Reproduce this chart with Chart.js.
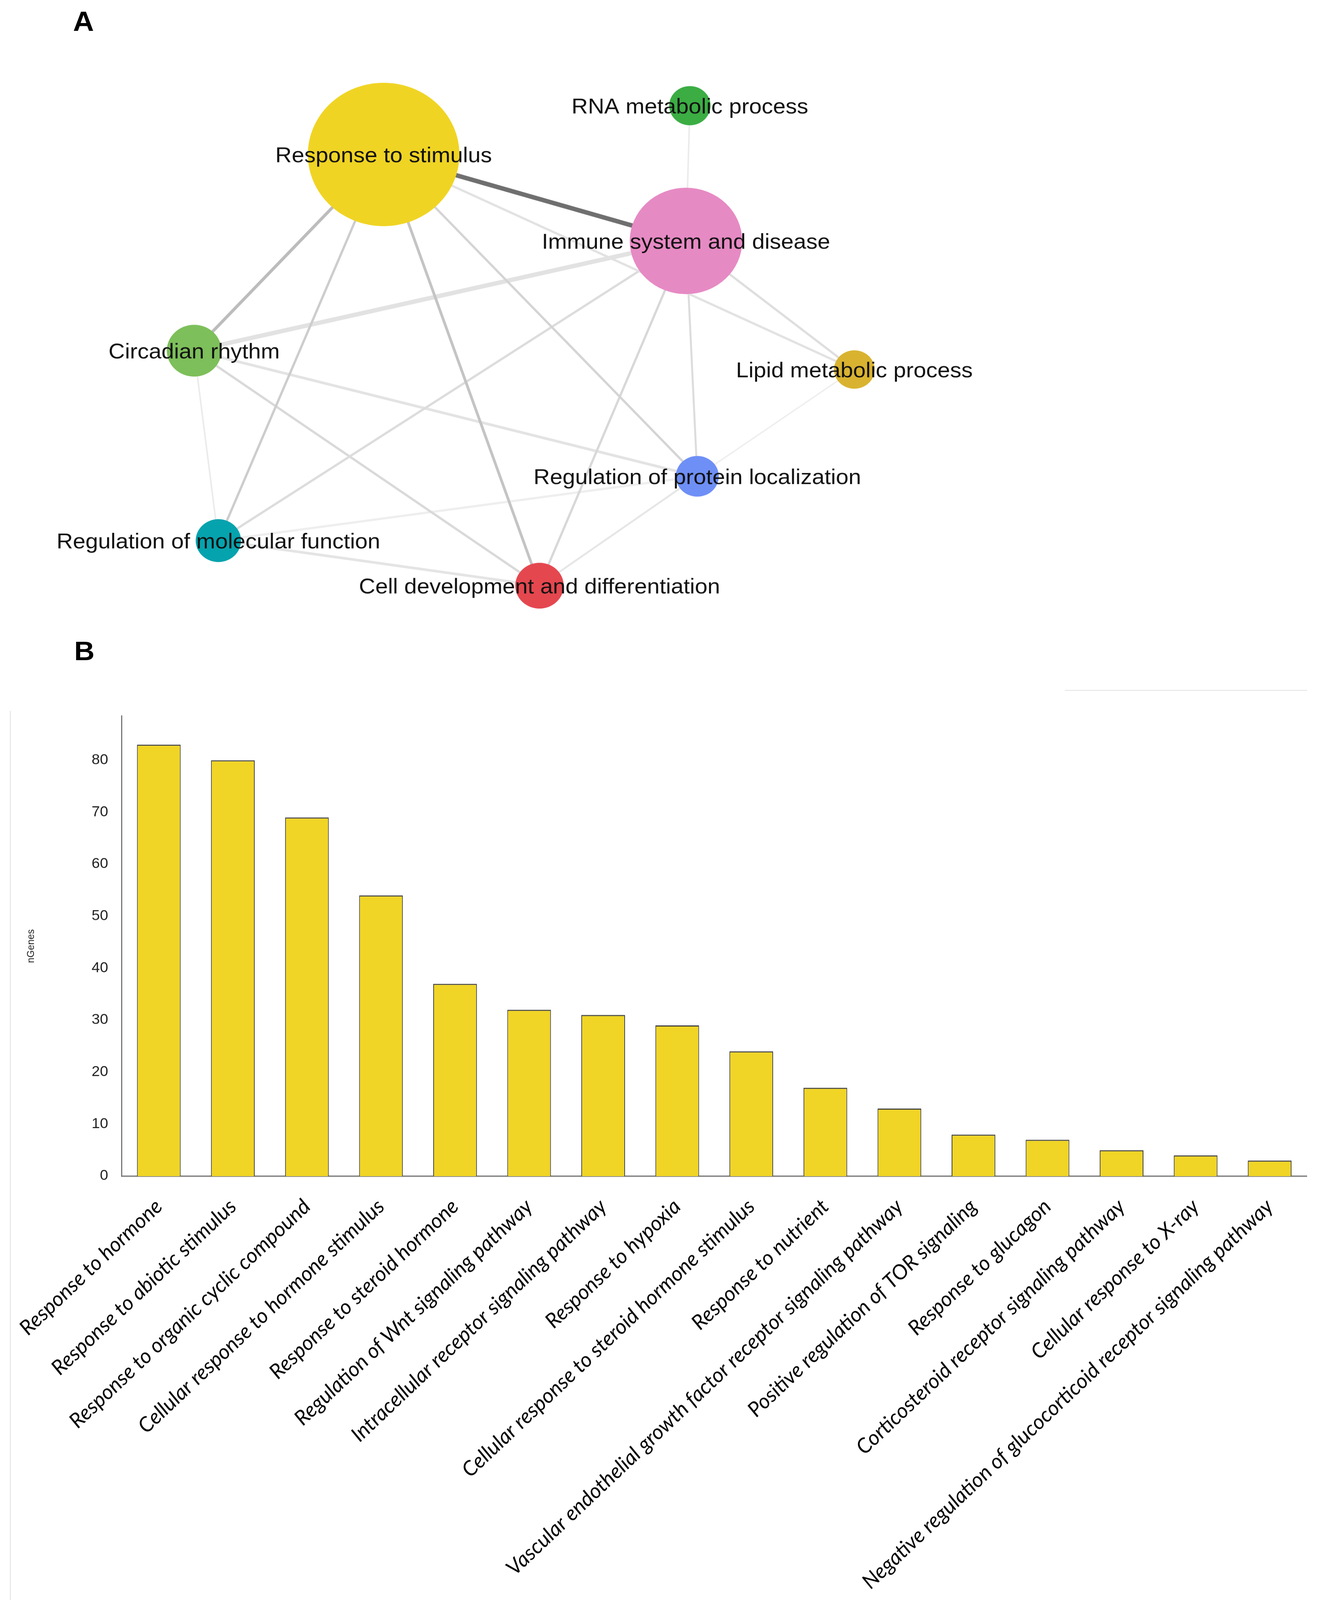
<!DOCTYPE html>
<html>
<head>
<meta charset="utf-8">
<script src="https://cdn.jsdelivr.net/npm/chart.js@4.4.0/dist/chart.umd.min.js"></script>
<style>
  html, body { margin: 0; padding: 0; background: #fff; overflow: hidden; }
  #page { width: 3379px; height: 4330px; position: relative; transform-origin: 0 0; font-family: "Liberation Sans", Arial, sans-serif; }
  .panel-letter { position: absolute; font-weight: bold; line-height: 1; color: #000; }
  #wrapA { position: absolute; left: 0; top: 0; width: 3379px; height: 1700px; }
  #wrapB { position: absolute; left: 0; top: 1880px; width: 3379px; height: 2450px; }
  .faint { position: absolute; background: #e9e9e9; }
</style>
</head>
<body>
<div id="page">
  <div class="panel-letter" style="left:187px; top:22px; font-size:74px;">A</div>
  <div class="panel-letter" style="left:190px; top:1726px; font-size:72px;">B</div>
  <div class="faint" style="left:25px; top:1924px; width:3px; height:2406px;"></div>
  <div class="faint" style="left:2726px; top:1867px; width:620px; height:3px;"></div>
  <div id="wrapA"><canvas id="networkChart"></canvas></div>
  <div id="wrapB"><canvas id="barChart"></canvas></div>
</div>
<script>
// the window shows less than 4330px, so squeeze the whole figure to fit
const fit = Math.min(1, window.innerHeight / 4330);
document.getElementById("page").style.transform = "scale(1, " + fit + ")";

// Network (panel A) //
const nodeNames = [
  "Response to stimulus",
  "RNA metabolic process",
  "Immune system and disease",
  "Circadian rhythm",
  "Lipid metabolic process",
  "Regulation of protein localization",
  "Regulation of molecular function",
  "Cell development and differentiation",
];
const nodeX = [982, 1766, 1756, 497, 2187, 1785, 559, 1381];
const nodeY = [418, 286, 652, 949, 1000, 1289, 1463, 1585];
const nodeRadius = [194, 53, 144, 70, 52, 55, 58, 62];
const nodeColors = ["#f0d424", "#3bad43", "#e68ac4", "#7dbf5a", "#d9b330", "#6e8ff6", "#05a3ae", "#e5474f"];

const edgeFrom = [0, 0, 0, 0, 0, 0, 2, 2, 2, 2, 2, 2, 3, 3, 3, 6, 6, 5, 4];
const edgeTo = [2, 3, 7, 6, 5, 4, 3, 6, 7, 5, 4, 1, 5, 7, 6, 5, 7, 7, 5];
const edgeWidth = [12, 8, 7, 6, 6, 6, 12, 6, 6, 5, 6, 4, 7, 6, 4, 6, 7, 5, 4];
const edgeShade = [
  "#6f6f6f", "#bcbcbc", "#c4c4c4", "#cdcdcd", "#d4d4d4", "#e2e2e2",
  "#e2e2e2", "#dcdcdc", "#d8d8d8", "#dcdcdc", "#dedede", "#ebebeb",
  "#e3e3e3", "#d9d9d9", "#ebebeb", "#eeeeee", "#e4e4e4", "#e6e6e6", "#eeeeee",
];

const edgeDatasets = edgeFrom.map(function (a, i) {
  const b = edgeTo[i];
  return {
    type: "line",
    data: [{ x: nodeX[a], y: nodeY[a] }, { x: nodeX[b], y: nodeY[b] }],
    borderColor: edgeShade[i],
    borderWidth: edgeWidth[i],
    pointRadius: 0,
    fill: false,
    order: 1,
  };
});

const nodeDataset = {
  type: "bubble",
  data: nodeNames.map(function (n, i) {
    return { x: nodeX[i], y: nodeY[i], r: nodeRadius[i] };
  }),
  backgroundColor: nodeColors,
  borderWidth: 0,
  order: 0,
};

const nodeLabels = {
  id: "nodeLabels",
  afterDatasetsDraw(chart) {
    const { ctx, scales } = chart;
    ctx.save();
    ctx.font = '58px "Liberation Sans", Arial, sans-serif';
    ctx.fillStyle = "#111";
    ctx.textAlign = "center";
    ctx.textBaseline = "alphabetic";
    nodeNames.forEach(function (name, i) {
      ctx.fillText(name, scales.x.getPixelForValue(nodeX[i]), scales.y.getPixelForValue(nodeY[i]) + 21);
    });
    ctx.restore();
  },
};

new Chart(document.getElementById("networkChart"), {
  type: "scatter",
  data: { datasets: [nodeDataset].concat(edgeDatasets) },
  options: {
    responsive: true,
    maintainAspectRatio: false,
    animation: false,
    devicePixelRatio: 1,
    layout: { padding: 0, autoPadding: false },
    plugins: { legend: { display: false }, tooltip: { enabled: false } },
    scales: {
      x: { type: "linear", min: 0, max: 3379, display: false },
      y: { type: "linear", min: 0, max: 1700, reverse: true, display: false },
    },
  },
  plugins: [nodeLabels],
});

// Bar Chart (panel B) //
const categories = [
  "Response to hormone",
  "Response to abiotic stimulus",
  "Response to organic cyclic compound",
  "Cellular response to hormone stimulus",
  "Response to steroid hormone",
  "Regulation of Wnt signaling pathway",
  "Intracellular receptor signaling pathway",
  "Response to hypoxia",
  "Cellular response to steroid hormone stimulus",
  "Response to nutrient",
  "Vascular endothelial growth factor receptor signaling pathway",
  "Positive regulation of TOR signaling",
  "Response to glucagon",
  "Corticosteroid receptor signaling pathway",
  "Cellular response to X-ray",
  "Negative regulation of glucocorticoid receptor signaling pathway",
];
const nGenes = [83, 80, 69, 54, 37, 32, 31, 29, 24, 17, 13, 8, 7, 5, 4, 3];
const yTicks = [0, 10, 20, 30, 40, 50, 60, 70, 80];

const narrowFont = "'Liberation Sans Narrow', 'Liberation Sans', Arial, sans-serif";

new Chart(document.getElementById("barChart"), {
  type: "bar",
  data: {
    labels: categories,
    datasets: [
      {
        data: nGenes,
        backgroundColor: "#f0d526",
        borderColor: "#3c3c3c",
        borderWidth: { top: 3, left: 2, right: 2, bottom: 0 },
        categoryPercentage: 1,
        barPercentage: 0.59,
      },
    ],
  },
  options: {
    responsive: true,
    maintainAspectRatio: false,
    animation: false,
    devicePixelRatio: 1,
    layout: { padding: { top: 44, right: 34, left: 0, bottom: 0 }, autoPadding: false },
    plugins: { legend: { display: false }, tooltip: { enabled: false } },
    scales: {
      x: {
        grid: { display: false, drawTicks: false },
        border: { display: true, color: "#8a8a8a", width: 4 },
        ticks: {
          autoSkip: false,
          maxRotation: 45,
          minRotation: 45,
          padding: 50,
          color: "#000",
          font: { family: "Lato, 'Open Sans', sans-serif", style: "italic", size: 55 },
        },
        afterFit(scale) {
          scale.height = 1147;
        },
      },
      y: {
        min: 0,
        max: 88.5,
        afterBuildTicks(scale) {
          scale.ticks = yTicks.map(function (v) { return { value: v }; });
        },
        grid: { display: false, drawTicks: false },
        border: { display: true, color: "#777", width: 3 },
        ticks: {
          padding: 35,
          color: "#222",
          font: { family: narrowFont, size: 38 },
        },
        title: {
          display: true,
          text: "nGenes",
          color: "#222",
          font: { family: narrowFont, size: 26 },
          padding: { top: 58, bottom: 0 },
        },
        afterFit(scale) {
          scale.width = 306;
        },
      },
    },
  },
});
</script>
</body>
</html>
